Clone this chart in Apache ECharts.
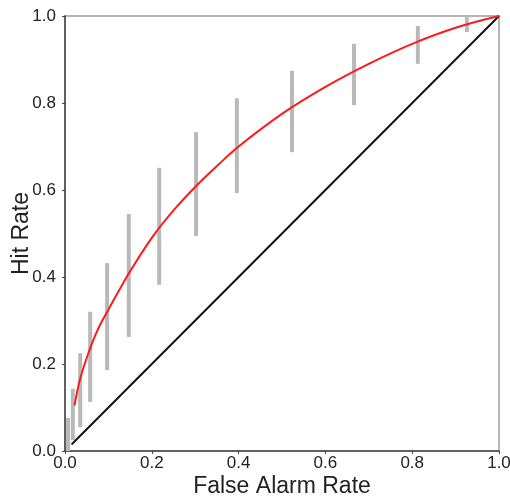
<!DOCTYPE html>
<html>
<head>
<meta charset="utf-8">
<script src="https://cdn.jsdelivr.net/npm/echarts@6/dist/echarts.min.js"></script>
<style>html,body{margin:0;padding:0;background:#fff}#c{width:510px;height:497px}</style>
</head>
<body>
<div id="c"></div>
<script>
// Error bars: false alarm rate, lower hit rate, upper hit rate
var barX  = [0.007, 0.018, 0.035, 0.058, 0.097, 0.147, 0.217, 0.302, 0.396, 0.523, 0.666, 0.813, 0.926];
var barLo = [0.000, 0.025, 0.055, 0.113, 0.186, 0.262, 0.382, 0.494, 0.593, 0.687, 0.795, 0.890, 0.963];
var barHi = [0.076, 0.143, 0.225, 0.320, 0.432, 0.545, 0.651, 0.733, 0.811, 0.874, 0.936, 0.977, 1.000];
// Fitted ROC curve
var curveX = [0.022, 0.035, 0.055, 0.075, 0.1, 0.125, 0.15, 0.2, 0.25, 0.3, 0.35, 0.4, 0.5, 0.6, 0.7, 0.8, 0.9, 1.0];
var curveY = [0.105, 0.166, 0.228, 0.278, 0.325, 0.37, 0.413, 0.49, 0.553, 0.607, 0.655, 0.70, 0.775, 0.837, 0.89, 0.936, 0.973, 1.0];
// Chance diagonal
var diagX = [0.015, 1.0];
var diagY = [0.015, 1.0];
var ticks = [0, 0.2, 0.4, 0.6, 0.8, 1.0];

var FONT = "'Liberation Sans', Arial, Helvetica, sans-serif";
var chart = echarts.init(document.getElementById('c'), null, {renderer: 'canvas'});

function pairs(xs, ys) { return xs.map(function (x, i) { return [x, ys[i]]; }); }

chart.setOption({
  animation: false,
  grid: {left: 65, right: 11, top: 16, bottom: 46, outerBoundsMode: 'none', containLabel: false,
         show: true, borderColor: '#b5b5b5', borderWidth: 2, backgroundColor: 'transparent'},
  xAxis: {
    type: 'value', min: 0, max: 1, interval: 0.2,
    name: 'False Alarm Rate', nameLocation: 'middle', nameGap: 24, nameMoveOverlap: false,
    nameTextStyle: {fontFamily: FONT, fontSize: 23, color: '#222'},
    axisLine: {show: true, onZero: false, lineStyle: {color: '#444', width: 1.5}},
    axisTick: {show: true, length: 3, lineStyle: {color: '#444'}},
    axisLabel: {fontFamily: FONT, fontSize: 17, color: '#222', margin: 4, formatter: function (v) { return v.toFixed(1); }},
    splitLine: {show: false}
  },
  yAxis: {
    type: 'value', min: 0, max: 1, interval: 0.2,
    name: 'Hit Rate', nameLocation: 'middle', nameGap: 32, nameMoveOverlap: false,
    nameTextStyle: {fontFamily: FONT, fontSize: 23, color: '#222'},
    axisLine: {show: true, onZero: false, lineStyle: {color: '#444', width: 1.5}},
    axisTick: {show: true, length: 3, lineStyle: {color: '#444'}},
    axisLabel: {fontFamily: FONT, fontSize: 17, color: '#222', margin: 9, formatter: function (v) { return v.toFixed(1); }},
    splitLine: {show: false}
  },
  series: [
    {
      type: 'custom', z: 2, clip: false,
      data: barX.map(function (x, i) { return [x, barLo[i], barHi[i]]; }),
      renderItem: function (params, api) {
        var top = api.coord([api.value(0), api.value(2)]);
        var bot = api.coord([api.value(0), api.value(1)]);
        return {type: 'rect', shape: {x: top[0] - 2, y: top[1], width: 4, height: bot[1] - top[1]}, style: {fill: '#b9b9b9'}};
      }
    },
    {
      type: 'line', z: 3, data: pairs(diagX, diagY), symbol: 'none',
      lineStyle: {color: '#111', width: 2}
    },
    {
      type: 'line', z: 4, data: pairs(curveX, curveY), symbol: 'none', smooth: 0.4,
      lineStyle: {color: '#ff1a1a', width: 2}
    }
  ]
});
</script>
</body>
</html>
